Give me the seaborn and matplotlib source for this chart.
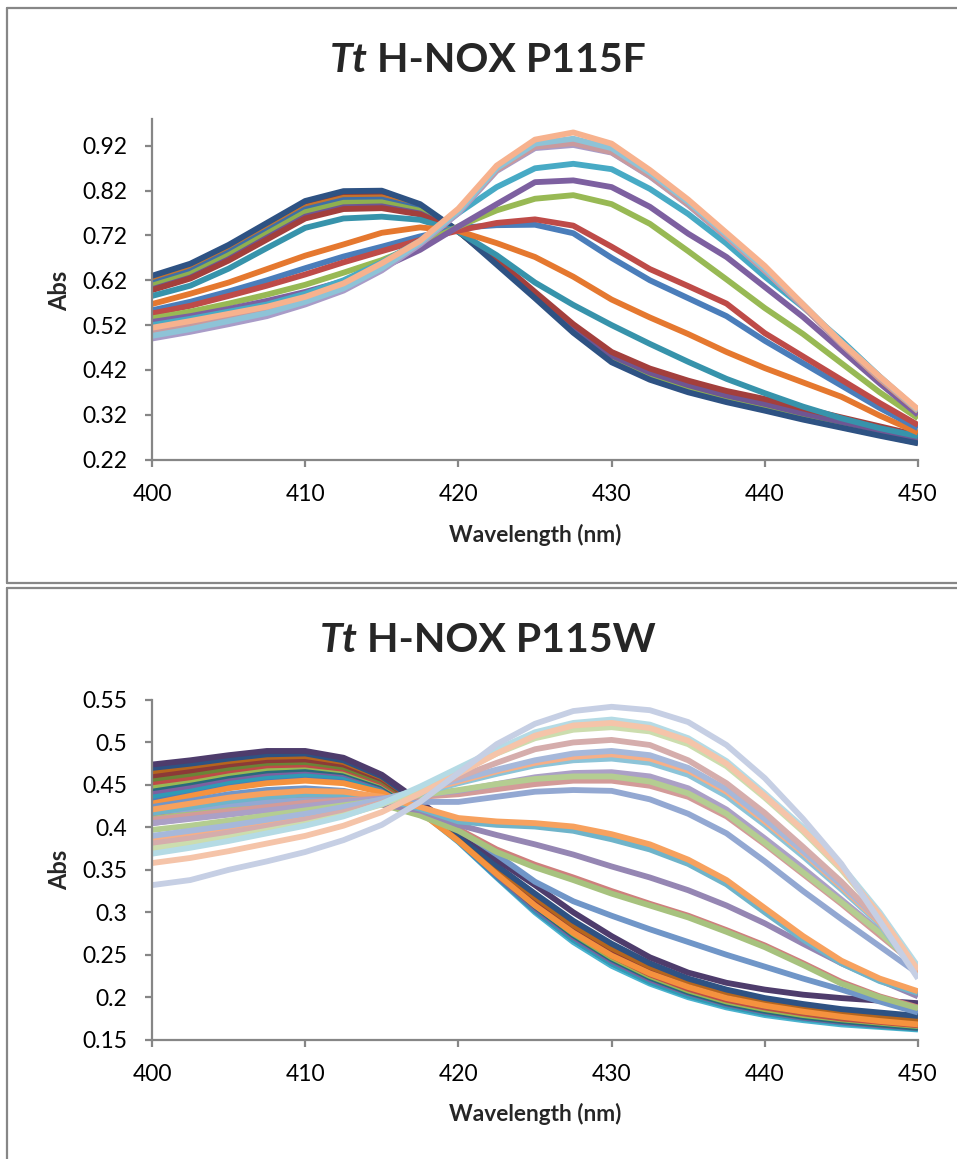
import matplotlib
matplotlib.use("Agg")
import matplotlib.pyplot as plt
import pandas as pd
import seaborn as sns
from matplotlib.lines import Line2D

# ---------------- data ----------------
WL = [400.0, 402.5, 405.0, 407.5, 410.0, 412.5, 415.0, 417.5, 420.0, 422.5, 425.0,
      427.5, 430.0, 432.5, 435.0, 437.5, 440.0, 442.5, 445.0, 447.5, 450.0]

# Tt H-NOX P115F
f_a2 = [0.624, 0.650, 0.692, 0.741, 0.789, 0.811, 0.812, 0.786, 0.730, 0.660, 0.585, 0.510, 0.447, 0.412, 0.385, 0.363, 0.345, 0.326, 0.307, 0.287, 0.268]
f_a3 = [0.618, 0.645, 0.687, 0.735, 0.783, 0.804, 0.805, 0.782, 0.729, 0.659, 0.582, 0.505, 0.440, 0.402, 0.374, 0.352, 0.333, 0.312, 0.293, 0.275, 0.257]
f_a4 = [0.613, 0.640, 0.682, 0.730, 0.778, 0.799, 0.800, 0.779, 0.729, 0.661, 0.585, 0.508, 0.442, 0.404, 0.376, 0.354, 0.335, 0.315, 0.296, 0.278, 0.259]
f_a5 = [0.608, 0.634, 0.676, 0.724, 0.772, 0.793, 0.794, 0.775, 0.729, 0.663, 0.587, 0.511, 0.446, 0.408, 0.380, 0.357, 0.338, 0.318, 0.299, 0.280, 0.262]
f_a6 = [0.600, 0.626, 0.667, 0.715, 0.762, 0.783, 0.785, 0.769, 0.729, 0.665, 0.590, 0.516, 0.452, 0.414, 0.386, 0.363, 0.344, 0.323, 0.304, 0.285, 0.266]
f_a7 = [0.598, 0.624, 0.664, 0.711, 0.758, 0.779, 0.781, 0.767, 0.729, 0.667, 0.594, 0.522, 0.460, 0.423, 0.396, 0.373, 0.355, 0.334, 0.314, 0.294, 0.274]
f_a1 = [0.630, 0.657, 0.699, 0.748, 0.797, 0.819, 0.820, 0.790, 0.730, 0.655, 0.580, 0.503, 0.437, 0.398, 0.370, 0.348, 0.329, 0.309, 0.291, 0.273, 0.256]
f_a8 = [0.585, 0.608, 0.646, 0.692, 0.737, 0.758, 0.762, 0.755, 0.728, 0.676, 0.615, 0.565, 0.520, 0.478, 0.438, 0.400, 0.368, 0.338, 0.312, 0.290, 0.272]
f_orange = [0.567, 0.590, 0.615, 0.645, 0.675, 0.700, 0.726, 0.738, 0.730, 0.703, 0.672, 0.628, 0.577, 0.537, 0.500, 0.460, 0.424, 0.392, 0.360, 0.318, 0.280]
f_blue = [0.553, 0.572, 0.595, 0.620, 0.647, 0.673, 0.695, 0.718, 0.737, 0.743, 0.744, 0.725, 0.670, 0.620, 0.580, 0.540, 0.485, 0.435, 0.385, 0.335, 0.290]
f_red = [0.546, 0.563, 0.585, 0.608, 0.633, 0.660, 0.685, 0.710, 0.731, 0.748, 0.756, 0.742, 0.695, 0.645, 0.607, 0.568, 0.502, 0.450, 0.398, 0.346, 0.297]
f_green = [0.535, 0.550, 0.568, 0.588, 0.610, 0.637, 0.665, 0.700, 0.740, 0.776, 0.802, 0.810, 0.790, 0.746, 0.685, 0.622, 0.558, 0.500, 0.435, 0.370, 0.312]
f_purple = [0.527, 0.540, 0.556, 0.574, 0.594, 0.618, 0.648, 0.688, 0.740, 0.790, 0.839, 0.843, 0.828, 0.784, 0.724, 0.672, 0.605, 0.538, 0.464, 0.390, 0.320]
f_aqua = [0.520, 0.534, 0.550, 0.566, 0.590, 0.620, 0.660, 0.708, 0.770, 0.828, 0.870, 0.880, 0.868, 0.824, 0.768, 0.702, 0.628, 0.560, 0.486, 0.405, 0.328]
f_orange2 = [0.508, 0.524, 0.540, 0.556, 0.578, 0.608, 0.652, 0.706, 0.776, 0.866, 0.918, 0.928, 0.908, 0.855, 0.790, 0.718, 0.643, 0.562, 0.478, 0.400, 0.328]
f_lav = [0.490, 0.505, 0.522, 0.540, 0.566, 0.597, 0.642, 0.700, 0.770, 0.864, 0.915, 0.922, 0.905, 0.852, 0.788, 0.716, 0.641, 0.562, 0.478, 0.402, 0.330]
f_pink = [0.502, 0.518, 0.535, 0.552, 0.575, 0.605, 0.648, 0.704, 0.774, 0.866, 0.918, 0.926, 0.906, 0.853, 0.789, 0.717, 0.642, 0.563, 0.479, 0.402, 0.330]
f_lblue = [0.496, 0.511, 0.529, 0.547, 0.572, 0.602, 0.647, 0.704, 0.774, 0.870, 0.925, 0.936, 0.915, 0.860, 0.795, 0.722, 0.646, 0.566, 0.482, 0.405, 0.330]
f_peach = [0.514, 0.529, 0.545, 0.561, 0.583, 0.613, 0.658, 0.708, 0.780, 0.876, 0.934, 0.950, 0.925, 0.866, 0.800, 0.726, 0.652, 0.566, 0.481, 0.405, 0.332]

# Tt H-NOX P115W
w_b13 = [0.431, 0.440, 0.449, 0.455, 0.458, 0.455, 0.443, 0.419, 0.383, 0.341, 0.300, 0.265, 0.237, 0.216, 0.200, 0.188, 0.179, 0.173, 0.168, 0.165, 0.162]
w_b11 = [0.434, 0.442, 0.451, 0.457, 0.460, 0.457, 0.445, 0.420, 0.384, 0.342, 0.302, 0.268, 0.240, 0.219, 0.203, 0.191, 0.182, 0.176, 0.171, 0.167, 0.164]
w_b10 = [0.437, 0.445, 0.454, 0.460, 0.463, 0.460, 0.447, 0.421, 0.385, 0.343, 0.303, 0.268, 0.240, 0.218, 0.202, 0.190, 0.181, 0.175, 0.170, 0.166, 0.163]
w_b09 = [0.442, 0.449, 0.458, 0.464, 0.467, 0.463, 0.449, 0.422, 0.386, 0.344, 0.305, 0.271, 0.243, 0.221, 0.205, 0.192, 0.183, 0.176, 0.171, 0.167, 0.164]
w_b08 = [0.446, 0.453, 0.461, 0.467, 0.469, 0.465, 0.450, 0.423, 0.387, 0.346, 0.307, 0.273, 0.245, 0.223, 0.206, 0.193, 0.184, 0.177, 0.172, 0.168, 0.164]
w_b07 = [0.449, 0.456, 0.464, 0.470, 0.472, 0.467, 0.452, 0.424, 0.388, 0.347, 0.309, 0.275, 0.247, 0.225, 0.208, 0.195, 0.186, 0.179, 0.174, 0.170, 0.166]
w_b06 = [0.453, 0.459, 0.467, 0.473, 0.474, 0.469, 0.453, 0.425, 0.389, 0.348, 0.311, 0.277, 0.249, 0.227, 0.210, 0.197, 0.188, 0.181, 0.175, 0.171, 0.167]
w_b05 = [0.457, 0.463, 0.470, 0.476, 0.477, 0.471, 0.455, 0.426, 0.390, 0.350, 0.313, 0.280, 0.252, 0.230, 0.213, 0.200, 0.190, 0.183, 0.177, 0.173, 0.169]
w_b04 = [0.461, 0.467, 0.474, 0.479, 0.480, 0.474, 0.457, 0.427, 0.391, 0.351, 0.315, 0.282, 0.255, 0.233, 0.216, 0.203, 0.193, 0.186, 0.180, 0.175, 0.171]
w_b03 = [0.466, 0.472, 0.478, 0.483, 0.484, 0.477, 0.459, 0.428, 0.392, 0.353, 0.318, 0.285, 0.258, 0.236, 0.219, 0.206, 0.196, 0.189, 0.183, 0.178, 0.174]
w_b02 = [0.470, 0.475, 0.481, 0.486, 0.487, 0.479, 0.460, 0.428, 0.393, 0.355, 0.322, 0.290, 0.263, 0.240, 0.222, 0.209, 0.199, 0.192, 0.186, 0.182, 0.178]
w_b12 = [0.428, 0.437, 0.446, 0.452, 0.455, 0.452, 0.441, 0.418, 0.384, 0.345, 0.308, 0.276, 0.249, 0.228, 0.212, 0.199, 0.190, 0.183, 0.177, 0.172, 0.168]
w_b01 = [0.474, 0.479, 0.485, 0.490, 0.490, 0.482, 0.462, 0.430, 0.397, 0.362, 0.332, 0.300, 0.272, 0.247, 0.229, 0.217, 0.209, 0.203, 0.199, 0.196, 0.193]
w_t1 = [0.424, 0.431, 0.439, 0.444, 0.446, 0.443, 0.434, 0.418, 0.398, 0.368, 0.336, 0.313, 0.296, 0.280, 0.265, 0.250, 0.236, 0.222, 0.209, 0.195, 0.182]
w_t2 = [0.412, 0.418, 0.425, 0.430, 0.433, 0.433, 0.428, 0.415, 0.398, 0.374, 0.356, 0.341, 0.325, 0.310, 0.296, 0.279, 0.261, 0.240, 0.218, 0.201, 0.188]
w_t3 = [0.410, 0.416, 0.423, 0.428, 0.431, 0.431, 0.427, 0.414, 0.396, 0.371, 0.353, 0.338, 0.322, 0.308, 0.294, 0.277, 0.259, 0.238, 0.216, 0.200, 0.187]
w_t4 = [0.405, 0.411, 0.418, 0.423, 0.427, 0.428, 0.427, 0.420, 0.403, 0.391, 0.380, 0.368, 0.354, 0.341, 0.326, 0.308, 0.287, 0.263, 0.240, 0.220, 0.201]
w_t7 = [0.418, 0.422, 0.427, 0.430, 0.432, 0.432, 0.431, 0.430, 0.430, 0.436, 0.442, 0.444, 0.443, 0.433, 0.416, 0.393, 0.360, 0.325, 0.292, 0.260, 0.228]
w_t6 = [0.417, 0.424, 0.431, 0.436, 0.439, 0.439, 0.434, 0.422, 0.407, 0.403, 0.401, 0.396, 0.386, 0.374, 0.357, 0.333, 0.300, 0.268, 0.240, 0.219, 0.205]
w_t5 = [0.421, 0.428, 0.435, 0.440, 0.443, 0.442, 0.436, 0.424, 0.411, 0.407, 0.405, 0.401, 0.392, 0.380, 0.362, 0.338, 0.305, 0.272, 0.243, 0.222, 0.207]
w_f1 = [0.409, 0.414, 0.419, 0.424, 0.429, 0.432, 0.434, 0.436, 0.439, 0.445, 0.451, 0.455, 0.455, 0.449, 0.436, 0.413, 0.380, 0.345, 0.310, 0.273, 0.236]
w_f2 = [0.405, 0.410, 0.415, 0.420, 0.425, 0.430, 0.434, 0.438, 0.443, 0.451, 0.459, 0.464, 0.465, 0.460, 0.446, 0.421, 0.387, 0.352, 0.315, 0.278, 0.236]
w_f3 = [0.397, 0.402, 0.408, 0.414, 0.420, 0.426, 0.432, 0.438, 0.444, 0.451, 0.457, 0.460, 0.460, 0.454, 0.440, 0.416, 0.382, 0.347, 0.312, 0.276, 0.235]
w_f6 = [0.384, 0.390, 0.397, 0.404, 0.411, 0.419, 0.428, 0.440, 0.452, 0.463, 0.473, 0.479, 0.481, 0.476, 0.462, 0.437, 0.403, 0.366, 0.327, 0.286, 0.226]
w_f5 = [0.387, 0.393, 0.400, 0.407, 0.414, 0.422, 0.431, 0.442, 0.454, 0.466, 0.476, 0.483, 0.486, 0.481, 0.467, 0.442, 0.407, 0.370, 0.330, 0.288, 0.228]
w_f4 = [0.390, 0.396, 0.402, 0.409, 0.416, 0.424, 0.433, 0.444, 0.456, 0.468, 0.479, 0.487, 0.490, 0.485, 0.470, 0.445, 0.410, 0.372, 0.332, 0.290, 0.232]
w_f7 = [0.381, 0.387, 0.394, 0.401, 0.409, 0.418, 0.429, 0.443, 0.459, 0.476, 0.492, 0.500, 0.503, 0.497, 0.479, 0.452, 0.417, 0.377, 0.336, 0.290, 0.232]
w_f8 = [0.375, 0.381, 0.388, 0.396, 0.404, 0.414, 0.427, 0.445, 0.465, 0.487, 0.505, 0.515, 0.518, 0.513, 0.498, 0.472, 0.435, 0.395, 0.350, 0.297, 0.234]
w_f9 = [0.369, 0.376, 0.384, 0.393, 0.402, 0.413, 0.428, 0.448, 0.470, 0.492, 0.512, 0.523, 0.527, 0.521, 0.505, 0.478, 0.440, 0.400, 0.355, 0.300, 0.236]
w_f10 = [0.358, 0.364, 0.372, 0.381, 0.390, 0.402, 0.418, 0.440, 0.463, 0.487, 0.508, 0.520, 0.523, 0.517, 0.502, 0.475, 0.437, 0.397, 0.352, 0.297, 0.232]
w_f11 = [0.332, 0.338, 0.350, 0.360, 0.371, 0.385, 0.403, 0.430, 0.464, 0.498, 0.522, 0.537, 0.542, 0.538, 0.524, 0.497, 0.458, 0.410, 0.357, 0.290, 0.222]

TOP_TICKS = [0.22, 0.32, 0.42, 0.52, 0.62, 0.72, 0.82, 0.92]
TOP_TICKLABELS = ["0.22", "0.32", "0.42", "0.52", "0.62", "0.72", "0.82", "0.92"]
BOT_TICKS = [0.15, 0.20, 0.25, 0.30, 0.35, 0.40, 0.45, 0.50, 0.55]
BOT_TICKLABELS = ["0.15", "0.2", "0.25", "0.3", "0.35", "0.4", "0.45", "0.5", "0.55"]
X_TICKS = [400, 410, 420, 430, 440, 450]

top_series = [
    ("a2", f_a2), ("a3", f_a3), ("a4", f_a4), ("a5", f_a5), ("a6", f_a6), ("a7", f_a7),
    ("a1", f_a1), ("a8", f_a8), ("orange", f_orange), ("blue", f_blue), ("red", f_red),
    ("green", f_green), ("purple", f_purple), ("aqua", f_aqua), ("orange2", f_orange2),
    ("lav", f_lav), ("pink", f_pink), ("lblue", f_lblue), ("peach", f_peach),
]
top_colors = {
    "a2": "#8C3A37", "a3": "#C4732E", "a4": "#3F6FA8", "a5": "#8FB04F", "a6": "#6E5693",
    "a7": "#A33F3C", "a1": "#2E5283", "a8": "#3793AB", "orange": "#E5782F", "blue": "#4A7DBA",
    "red": "#BE4B48", "green": "#98B954", "purple": "#7D60A0", "aqua": "#47AAC5",
    "orange2": "#F5A262", "lav": "#A99CC8", "pink": "#C99A9E", "lblue": "#8EC3D7",
    "peach": "#F7B28E",
}

bot_series = [
    ("b13", w_b13), ("b11", w_b11), ("b10", w_b10), ("b09", w_b09), ("b08", w_b08),
    ("b07", w_b07), ("b06", w_b06), ("b05", w_b05), ("b04", w_b04), ("b03", w_b03),
    ("b02", w_b02), ("b12", w_b12), ("b01", w_b01), ("t1", w_t1), ("t2", w_t2), ("t3", w_t3),
    ("t4", w_t4), ("t7", w_t7), ("t6", w_t6), ("t5", w_t5), ("f1", w_f1), ("f2", w_f2),
    ("f3", w_f3), ("f6", w_f6), ("f5", w_f5), ("f4", w_f4), ("f7", w_f7), ("f8", w_f8),
    ("f9", w_f9), ("f10", w_f10), ("f11", w_f11),
]
bot_colors = {
    "b13": "#4BB3CF", "b11": "#4A7DBA", "b10": "#2F9BB5", "b09": "#7D60A0", "b08": "#276A7C",
    "b07": "#98B954", "b06": "#BE4B48", "b05": "#6B8436", "b04": "#8C3A37", "b03": "#B5651D",
    "b02": "#2E5283", "b12": "#F5923E", "b01": "#4E3C6C", "t1": "#7096C8", "t2": "#CF7F7D",
    "t3": "#A7C27E", "t4": "#9586B3", "t7": "#93A8D2", "t6": "#6FB4CA", "t5": "#F7A15E",
    "f1": "#D39B99", "f2": "#ABA0C6", "f3": "#B4CD91", "f6": "#8DC4D8", "f5": "#F6AF88",
    "f4": "#A6B8DA", "f7": "#D5ADAC", "f8": "#CCDDAE", "f9": "#B5DBE5", "f10": "#F5C4A9",
    "f11": "#C6CFE4",
}


def long_form(series):
    rows = []
    for name, vals in series:
        for w, v in zip(WL, vals):
            rows.append((name, w, v))
    return pd.DataFrame(rows, columns=["series", "wl", "abs"])


# ---------------- figure ----------------
sns.set_theme(style="white")
plt.rcParams["font.family"] = ["Lato", "DejaVu Sans"]

W, H = 957, 1159
fig = plt.figure(figsize=(W / 100, H / 100), dpi=100)
fig.patch.set_facecolor("white")


def fx(px):
    return px / W


def fy(py):
    return 1 - py / H


ax1 = fig.add_axes([fx(152), fy(459.5), fx(918) - fx(152), fy(119) - fy(459.5)])
ax2 = fig.add_axes([fx(152), fy(1039.7), fx(918) - fx(152), fy(700) - fy(1039.7)])

for ax, series, colors in ((ax1, top_series, top_colors), (ax2, bot_series, bot_colors)):
    df = long_form(series)
    order = [n for n, _ in series]
    sns.lineplot(data=df, x="wl", y="abs", hue="series", hue_order=order,
                 palette=colors, linewidth=4.2, legend=False, estimator=None,
                 sort=False, ax=ax, solid_joinstyle="round", solid_capstyle="butt")

ax1.set_ylim(0.22, 0.98)
ax1.set_yticks(TOP_TICKS)
ax1.set_yticklabels(TOP_TICKLABELS)
ax2.set_ylim(0.15, 0.55)
ax2.set_yticks(BOT_TICKS)
ax2.set_yticklabels(BOT_TICKLABELS)

axis_grey = "#868686"
for ax in (ax1, ax2):
    ax.set_xlim(400, 450)
    ax.set_xticks(X_TICKS)
    ax.set_xticklabels([str(t) for t in X_TICKS])
    ax.set_xlabel("")
    ax.set_ylabel("")
    ax.grid(False)
    ax.set_facecolor("none")
    for s in ("top", "right"):
        ax.spines[s].set_visible(False)
    for s in ("left", "bottom"):
        ax.spines[s].set_color(axis_grey)
        ax.spines[s].set_linewidth(1.6)
    ax.tick_params(axis="both", which="major", direction="out", length=4.8, width=1.6,
                   color=axis_grey, labelsize=16.5, labelcolor="#000000",
                   left=True, bottom=True)
    ax.tick_params(axis="y", pad=13)
    ax.tick_params(axis="x", pad=13)

# chart-area frames
frame_kw = dict(color="#878787", linewidth=1.6, transform=fig.transFigure)
fig.add_artist(Line2D([fx(7.5), fx(7.5)], [fy(7.5), fy(582.5)], **frame_kw))
fig.add_artist(Line2D([fx(7.5), fx(957)], [fy(7.5), fy(7.5)], **frame_kw))
fig.add_artist(Line2D([fx(7.5), fx(957)], [fy(582.5), fy(582.5)], **frame_kw))
fig.add_artist(Line2D([fx(7.5), fx(7.5)], [fy(587.5), fy(1159)], **frame_kw))
fig.add_artist(Line2D([fx(7.5), fx(957)], [fy(587.5), fy(587.5)], **frame_kw))

# axis labels
for base_y, mid_y in ((542, 290.5), (1121, 870)):
    fig.text(fx(535), fy(base_y), "Wavelength (nm)", fontsize=16.3, fontweight="bold",
             ha="center", va="baseline")
    fig.text(fx(67), fy(mid_y), "Abs", fontsize=17, fontweight="bold", rotation=90,
             rotation_mode="anchor", ha="center", va="baseline")

# titles: italic "Tt" + bold rest, centred as a whole
fig.canvas.draw()
renderer = fig.canvas.get_renderer()
for base_y, rest in ((72, "H-NOX P115F"), (652, "H-NOX P115W")):
    t1 = fig.text(0, fy(base_y), "Tt", fontsize=29.5, fontweight="bold",
                  fontstyle="italic", ha="left", va="baseline")
    t2 = fig.text(0, fy(base_y), rest, fontsize=29.5, fontweight="bold",
                  ha="left", va="baseline")
    w1 = t1.get_window_extent(renderer).width
    w2 = t2.get_window_extent(renderer).width
    gap = 29.5 * 100 / 72 * 0.24
    x0 = 488 - (w1 + gap + w2) / 2
    t1.set_x(fx(x0))
    t2.set_x(fx(x0 + w1 + gap))

fig.savefig("out.png", dpi=100, facecolor="white")
